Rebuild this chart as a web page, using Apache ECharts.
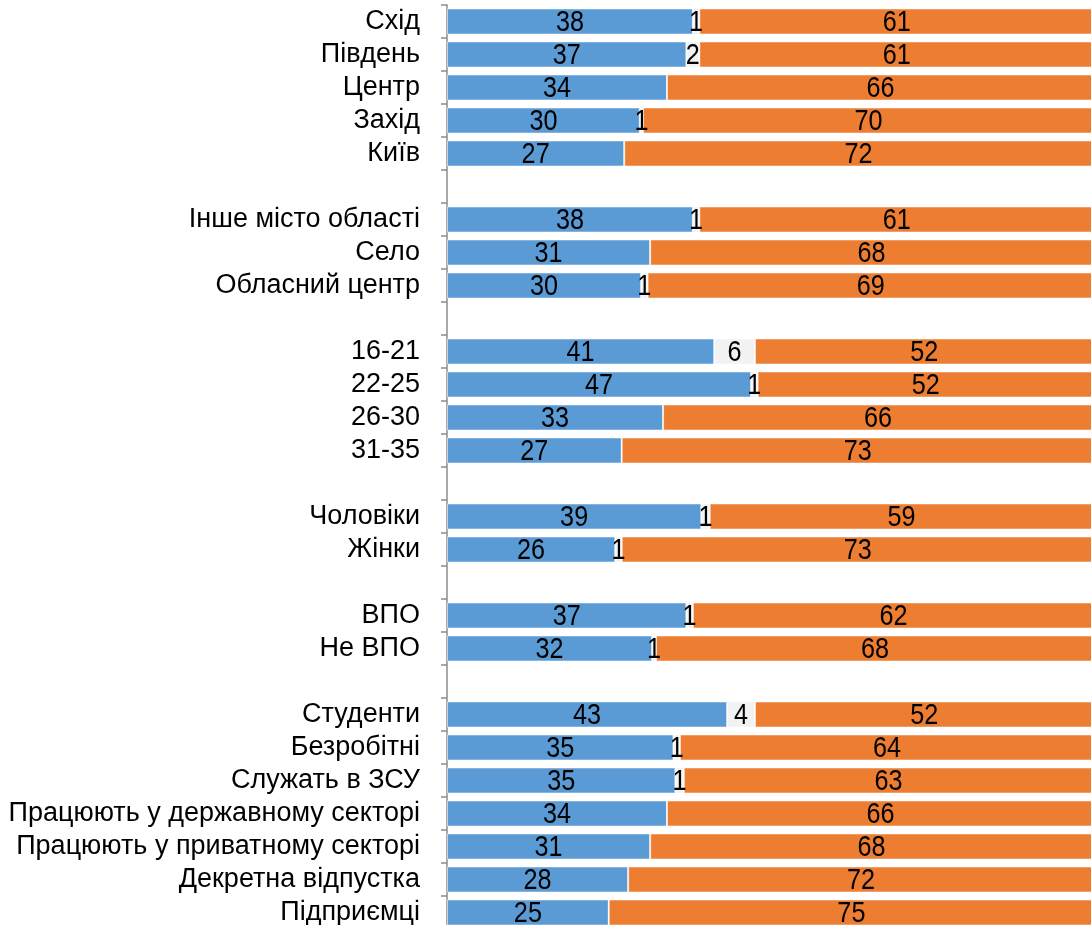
<!DOCTYPE html>
<html><head><meta charset="utf-8">
<script src="https://cdn.jsdelivr.net/npm/echarts@6/dist/echarts.min.js"></script>
<style>html,body{margin:0;padding:0;background:#fff}#c{width:1091px;height:925px}</style>
</head><body><div id="c"></div>
<script>
const categories = ['Схід','Південь','Центр','Захід','Київ','',
  'Інше місто області','Село','Обласний центр','',
  '16-21','22-25','26-30','31-35','',
  'Чоловіки','Жінки','',
  'ВПО','Не ВПО','',
  'Студенти','Безробітні','Служать в ЗСУ','Працюють у державному секторі','Працюють у приватному секторі','Декретна відпустка','Підприємці'];
const blueValues   = [38,37,34,29.8,27.4,'-', 38,31.4,30,'-', 41.3,47,33.4,27,'-', 39.3,26,'-', 37,31.7,'-', 43.3,35,35.3,34,31.4,28,25];
const grayValues   = [1,2,0,0.5,0,'-', 1,0,1,'-', 6.3,1,0,0,'-', 1.3,1,'-', 1,0.6,'-', 4.3,1,1.3,0,0,0,0];
const orangeValues = [61,61,66,69.7,72.4,'-', 61,68.4,69,'-', 52.3,52,66.4,73,'-', 59.3,73,'-', 62,67.7,'-', 52.3,64,63.3,66,68.4,72,75];

const FONT = "'Liberation Sans Narrow','Arial Narrow','Liberation Sans',Arial,sans-serif";

// label points derived from the series values
const labelData = [];
categories.forEach((c, i) => {
  if (blueValues[i] === '-') return;
  const b = blueValues[i], g = grayValues[i], o = orangeValues[i];
  labelData.push([i, 0, b]);
  if (g > 0) labelData.push([i, b, g]);
  labelData.push([i, b + g, o]);
});

function mk(name, data, color) {
  return {
    name, type: 'bar', stack: 'total', data, barCategoryGap: '21%',
    itemStyle: { color, borderColor: 'rgba(255,255,255,0.55)', borderWidth: 1 },
    emphasis: { disabled: true }, silent: true
  };
}
const chart = echarts.init(document.getElementById('c'));
chart.setOption({
  animation: false,
  grid: { left: 447, right: -3, top: 5, bottom: -4, containLabel: false, outerBoundsMode: 'none' },
  xAxis: { type: 'value', min: 0, max: 100, show: false },
  yAxis: {
    type: 'category', data: categories, inverse: true,
    axisLine: { show: true, lineStyle: { color: '#8c8c8c', width: 1.5 } },
    axisTick: { show: true, length: 6, lineStyle: { color: '#8c8c8c', width: 1.5 } },
    axisLabel: { color: '#000', fontFamily: FONT, fontSize: 27, margin: 27, interval: 0 }
  },
  series: [
    mk('blue', blueValues, '#5b9bd5'),
    mk('gray', grayValues, '#f2f2f2'),
    mk('orange', orangeValues, '#ed7d31'),
    {
      type: 'custom', data: labelData, z: 5, silent: true, clip: false,
      encode: { y: 0, x: [1, 2] },
      renderItem: (params, api) => {
        const cat = api.value(0), s = api.value(1), v = api.value(2);
        const p = api.coord([s + v / 2, cat]);
        return {
          type: 'text', x: p[0], y: p[1] + 1, scaleX: 0.84,
          style: { text: String(Math.round(v)), align: 'center', verticalAlign: 'middle',
                   fontFamily: FONT, fontSize: 30, fill: '#000' }
        };
      }
    }
  ]
});
</script></body></html>
